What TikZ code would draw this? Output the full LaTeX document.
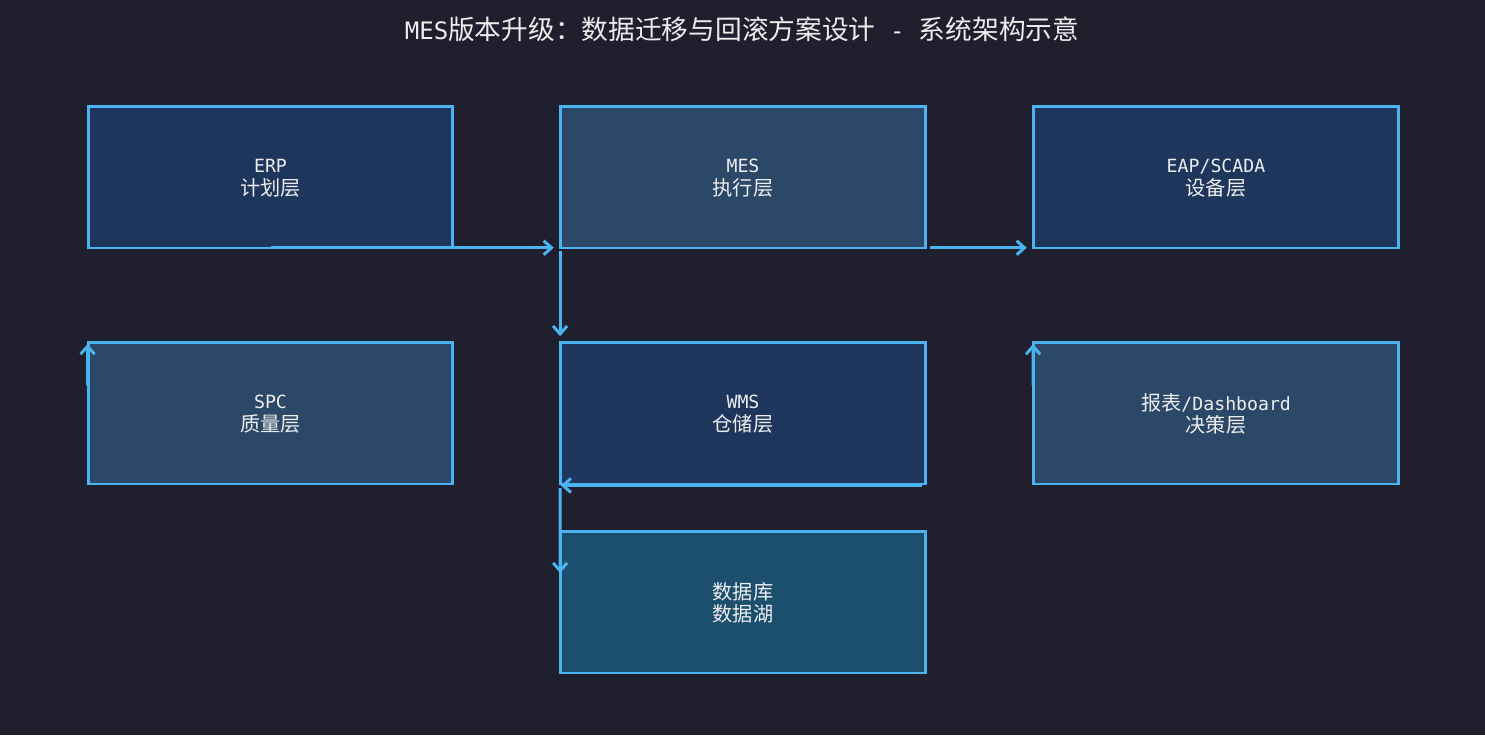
\documentclass[tikz,border=0pt]{standalone}
\usepackage{fontspec}
\setmainfont{DejaVu Sans Mono}[Scale=0.9]
\newfontfamily\cjk{Noto Sans CJK SC}
\usetikzlibrary{arrows.meta,calc}

\definecolor{bgc}{HTML}{1F1F2E}
\definecolor{edgec}{HTML}{4AB4F0}
\definecolor{darkc}{HTML}{1F365C}
\definecolor{lightc}{HTML}{2C4868}
\definecolor{dbc}{HTML}{1C4E6E}
\definecolor{txtc}{HTML}{EDEDED}

\begin{document}
\begin{tikzpicture}[x=0.02cm, y=-0.02cm,
	layer/.style={draw=edgec, line width=1.7pt, minimum width=7.3cm, minimum height=2.84cm,
		inner sep=0pt, align=center, text=txtc, text depth=0pt, font=\fontsize{11.5}{13}\selectfont},
	arr/.style={draw=edgec, line width=1.7pt, -{Straight Barb[length=4.5pt,width=8pt,line width=1.7pt]}},
	title/.style={text=txtc, font=\fontsize{15.2}{17}\selectfont}]
		\fill[bgc] (0,0) rectangle (1485,735);
		
		\node[title] (title) at (742,29) {MES{\cjk 版本升级：数据迁移与回滚方案设计} - {\cjk 系统架构示意}};
		
		\foreach \n\x\y\f\s in {ERP/270.5/177/darkc/{ERP\\{\cjk 计划层}},
			MES/743/177/lightc/{MES\\{\cjk 执行层}},
			EAP/1216/177/darkc/{EAP/SCADA\\{\cjk 设备层}},
			SPC/270.5/413/lightc/{SPC\\{\cjk 质量层}},
			WMS/743/413/darkc/{WMS\\{\cjk 仓储层}},
			BI/1216/413/lightc/{{\cjk 报表}/Dashboard\\{\cjk 决策层}},
			DB/743/602/dbc/{{\cjk 数据库}\\{\cjk 数据湖}}}
		\node[layer, fill=\f] (\n) at (\x,\y) {\s};
		
		\coordinate (spcA) at ($(SPC.north west)!.31!(SPC.south west)$);
		\coordinate (biA) at ($(BI.north west)!.31!(BI.south west)$);
		\coordinate (dbA) at ($(DB.north west)!.3!(DB.south west)$);
		
		\draw[arr, shorten >=3pt] ([yshift=1pt]ERP.south) -- ([yshift=1pt]MES.south west);
		\draw[arr, shorten <=1pt, shorten >=2.5pt] ([xshift=.6pt]MES.south west) -- ([xshift=.6pt]WMS.north west);
		\draw[arr, shorten <=1.5pt, shorten >=3pt] ([yshift=1pt]MES.south east) -- ([yshift=1pt]EAP.south west);
		\draw[arr, shorten >=2pt] ([xshift=.6pt]spcA) -- ([xshift=.6pt]SPC.north west);
		\draw[arr, shorten >=2pt] ([xshift=.6pt]biA) -- ([xshift=.6pt]BI.north west);
		\draw[arr, shorten <=3pt, shorten >=1pt] (WMS.south east) -- (WMS.south west);
		\draw[arr, shorten <=1.5pt] ([xshift=.6pt]WMS.south west) -- ([xshift=.6pt]dbA);
	\end{tikzpicture}
\end{document}
